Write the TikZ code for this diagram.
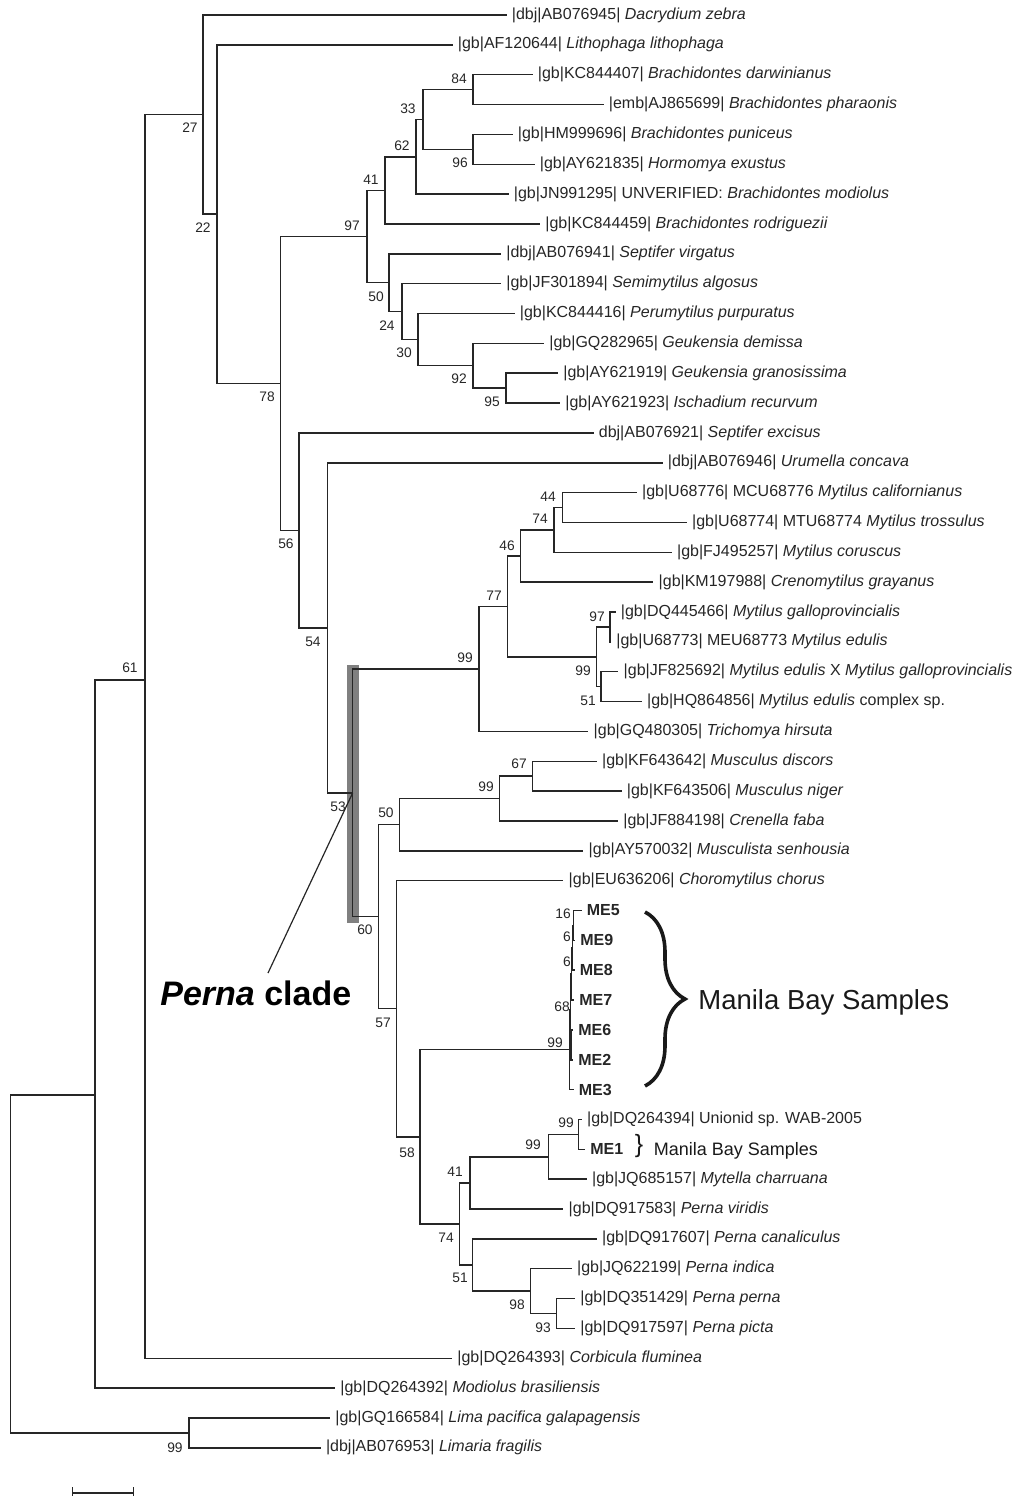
\documentclass[tikz,border=0pt]{standalone}
\usepackage{fontspec}
\setmainfont{Liberation Sans}
\usetikzlibrary{decorations.pathreplacing}

\tikzset{
  branch/.style={line width=0.75pt, black!85},
  leaf/.style={anchor=west, inner sep=2.5pt, text=black!85, font=\fontsize{8}{9}\selectfont},
  bs/.style={inner sep=0pt, text=black!85, font=\fontsize{6.9}{8}\selectfont},
}

\begin{document}
\begin{tikzpicture}[x=0.5pt,y=-0.5pt]
  \useasboundingbox (0,0) rectangle (1019,1496);

  % highlighted Perna branch
  \fill[black!50] (346.7,665) rectangle (359,923);

  % inner nodes
  \foreach \nm/\xn/\yn in {root/10.5/1264, n61/95/1095, n145/145/680, nLima/189/1433,
      n27/203/114.6, n22/217/214.2, n78/280.5/383.5, n97/367/236.6, n41/385/190.4,
      n62/416/156.8, n33/423/119.5, n84/473/89.6, n96/473/149.3, n50/389/282.7,
      n24/402/311.6, n30/418/339.6, n92/473/365.7, n95/506/388.1, n56/299/530.4,
      n54/327.3/627.8, n53/352.7/792.8, n99a/479/668.9, n77/507.3/606.4, n46/520.7/556,
      n74/554/529.9, n44/562.7/507.5, n99c/596.7/656.8, n97b/610/626.9, n51/601/686.6,
      n60/378.3/916.7, n50b/399.3/824.7, n99b/499.3/798.6, n67/532.7/776.2,
      n57/396.7/1008.7, n58/420/1136.8, nME99/569.3/1049.5, nME68/570.3/1009.4,
      nME6b/571.3/973.9, nME6a/572.3/947.8, nME16/573.3/925.4, nME62/570.8/1044.8,
      n74b/459.3/1224, n41b/470/1182.9, n99m/548.3/1156.8, n99u/578.3/1134.4,
      n51b/472.7/1265, n98/530.7/1291.1, n93/556.7/1313.5}
    \coordinate (\nm) at (\xn,\yn);

  % inner branches
  \foreach \pa/\ch in {root/n61, root/nLima, n61/n145, n145/n27, n27/n22, n22/n78,
      n78/n97, n78/n56, n97/n41, n97/n50, n41/n62, n62/n33, n33/n84, n33/n96,
      n50/n24, n24/n30, n30/n92, n92/n95, n56/n54, n54/n53, n53/n99a, n53/n60,
      n99a/n77, n77/n46, n77/n99c, n46/n74, n74/n44, n99c/n97b, n99c/n51,
      n60/n50b, n60/n57, n50b/n99b, n99b/n67, n57/n58, n58/nME99, n58/n74b,
      nME99/nME68, nME68/nME6b, nME68/nME62, nME6b/nME6a, nME6a/nME16,
      n74b/n41b, n74b/n51b, n41b/n99m, n99m/n99u, n51b/n98, n98/n93}
    \draw[branch] (\pa) |- (\ch);

  % taxa
  \foreach \nm/\pa/\xe/\row/\lbl in {
      l1/n27/506.5/1/{|dbj|AB076945| \textit{Dacrydium zebra}},
      l2/n22/452.5/2/{|gb|AF120644| \textit{Lithophaga lithophaga}},
      l3/n84/532.5/3/{|gb|KC844407| \textit{Brachidontes darwinianus}},
      l4/n84/603.5/4/{|emb|AJ865699| \textit{Brachidontes pharaonis}},
      l5/n96/512.5/5/{|gb|HM999696| \textit{Brachidontes puniceus}},
      l6/n96/534.5/6/{|gb|AY621835| \textit{Hormomya exustus}},
      l7/n62/508.5/7/{|gb|JN991295| UNVERIFIED: \textit{Brachidontes modiolus}},
      l8/n41/540/8/{|gb|KC844459| \textit{Brachidontes rodriguezii}},
      l9/n50/501/9/{|dbj|AB076941| \textit{Septifer virgatus}},
      l10/n24/501/10/{|gb|JF301894| \textit{Semimytilus algosus}},
      l11/n30/514.5/11/{|gb|KC844416| \textit{Perumytilus purpuratus}},
      l12/n92/544/12/{|gb|GQ282965| \textit{Geukensia demissa}},
      l13/n95/558/13/{|gb|AY621919| \textit{Geukensia granosissima}},
      l14/n95/560/14/{|gb|AY621923| \textit{Ischadium recurvum}},
      l15/n56/593.5/15/{dbj|AB076921| \textit{Septifer excisus}},
      l16/n54/662.5/16/{|dbj|AB076946| \textit{Urumella concava}},
      l17/n44/636.7/17/{|gb|U68776| MCU68776 \textit{Mytilus californianus}},
      l18/n44/686.7/18/{|gb|U68774| MTU68774 \textit{Mytilus trossulus}},
      l19/n74/671.7/19/{|gb|FJ495257| \textit{Mytilus coruscus}},
      l20/n46/653.3/20/{|gb|KM197988| \textit{Crenomytilus grayanus}},
      l21/n97b/615.5/21/{|gb|DQ445466| \textit{Mytilus galloprovincialis}},
      l22/n97b/611/22/{|gb|U68773| MEU68773 \textit{Mytilus edulis}},
      l23/n51/618.3/23/{|gb|JF825692| \textit{Mytilus edulis} X \textit{Mytilus galloprovincialis}},
      l24/n51/641.7/24/{|gb|HQ864856| \textit{Mytilus edulis} complex sp.},
      l25/n99a/588.3/25/{|gb|GQ480305| \textit{Trichomya hirsuta}},
      l26/n67/596.7/26/{|gb|KF643642| \textit{Musculus discors}},
      l27/n67/621.5/27/{|gb|KF643506| \textit{Musculus niger}},
      l28/n99b/618/28/{|gb|JF884198| \textit{Crenella faba}},
      l29/n50b/583.3/29/{|gb|AY570032| \textit{Musculista senhousia}},
      l30/n57/563.3/30/{|gb|EU636206| \textit{Choromytilus chorus}},
      l31/nME16/581.5/31/{\textbf{ME5}},
      l32/nME16/575/32/{\textbf{ME9}},
      l33/nME6a/574.5/33/{\textbf{ME8}},
      l34/nME6b/574/34/{\textbf{ME7}},
      l35/nME62/573/35/{\textbf{ME6}},
      l36/nME62/573/36/{\textbf{ME2}},
      l37/nME99/573.5/37/{\textbf{ME3}},
      l38/n99u/581.7/38/{|gb|DQ264394| Unionid sp. WAB-2005},
      l39/n99u/585/39/{\textbf{ME1}},
      l40/n99m/586.7/40/{|gb|JQ685157| \textit{Mytella charruana}},
      l41/n41b/563.3/41/{|gb|DQ917583| \textit{Perna viridis}},
      l42/n51b/596.7/42/{|gb|DQ917607| \textit{Perna canaliculus}},
      l43/n98/571.7/43/{|gb|JQ622199| \textit{Perna indica}},
      l44/n93/575/44/{|gb|DQ351429| \textit{Perna perna}},
      l45/n93/575/45/{|gb|DQ917597| \textit{Perna picta}},
      l46/n145/452/46/{|gb|DQ264393| \textit{Corbicula fluminea}},
      l47/n61/335/47/{|gb|DQ264392| \textit{Modiolus brasiliensis}},
      l48/nLima/330/48/{|gb|GQ166584| \textit{Lima pacifica galapagensis}},
      l49/nLima/320.6/49/{|dbj|AB076953| \textit{Limaria fragilis}}} {
    \node[leaf] (\nm) at (\xe,{15+29.85*(\row-1)}) {\lbl};
    \draw[branch] (\pa) |- (\nm);
  }

  % bootstrap values
  \foreach \v/\xb/\yb [count=\i] in {27/190/128, 22/203/228, 84/459/79, 33/408/109,
      62/402/146, 96/460/163, 41/371/180, 97/352/226, 50/376/297, 24/387/326,
      30/404/353, 92/459/379, 95/492/402, 78/267/397, 56/286/544, 54/313/642,
      53/338/807, 99/465/658, 77/494/596, 46/507/546, 74/540/519, 44/548/497,
      99/583/671, 97/597/617, 51/588/701, 67/519/764, 99/486/787, 50/386/813,
      60/365/930, 57/383/1023, 16/563/914, 6/567/937, 6/567/962, 68/562/1007,
      99/555/1043, 58/407/1153, 99/566/1123, 99/533/1145, 41/455/1172,
      74/446/1238, 51/460/1278, 98/517/1305, 93/543/1328, 61/130/668, 99/175/1448}
    \node[bs] (bs\i) at (\xb,\yb) {\v};

  % Perna clade
  \node[anchor=base west, inner sep=0pt, text=black, font=\fontsize{17}{20}\selectfont\bfseries]
    (perna) at (160,1005) {\textit{Perna} clade};
  \coordinate (pernatip) at (268,973);
  \draw[line width=0.6pt, black!85] (n53) -- (pernatip);

  % Manila Bay samples
  \coordinate (brtop) at (645,912);
  \coordinate (brbot) at (645,1086);
  \draw[decorate, decoration={brace, amplitude=20pt}, line width=1.8pt, black!90] (brtop) -- (brbot);
  \node[anchor=base west, inner sep=0pt, text=black!90, font=\fontsize{13.75}{16}\selectfont]
    (mbs) at (698,1009.5) {Manila Bay Samples};
  \node[inner sep=0pt, text=black!90, font=\fontsize{12.5}{14}\selectfont] (mbsbr) at (639,1146) {\}};
  \node[anchor=base west, inner sep=0pt, text=black!90, font=\fontsize{9}{11}\selectfont]
    (mbsone) at (653.5,1155) {Manila Bay Samples};

  % scale bar
  \draw[line width=0.75pt, black!85] (72.7,1487) -- (72.7,1496) (72.7,1493) -- (133.3,1493)
    (133.3,1487) -- (133.3,1496);
\end{tikzpicture}
\end{document}
